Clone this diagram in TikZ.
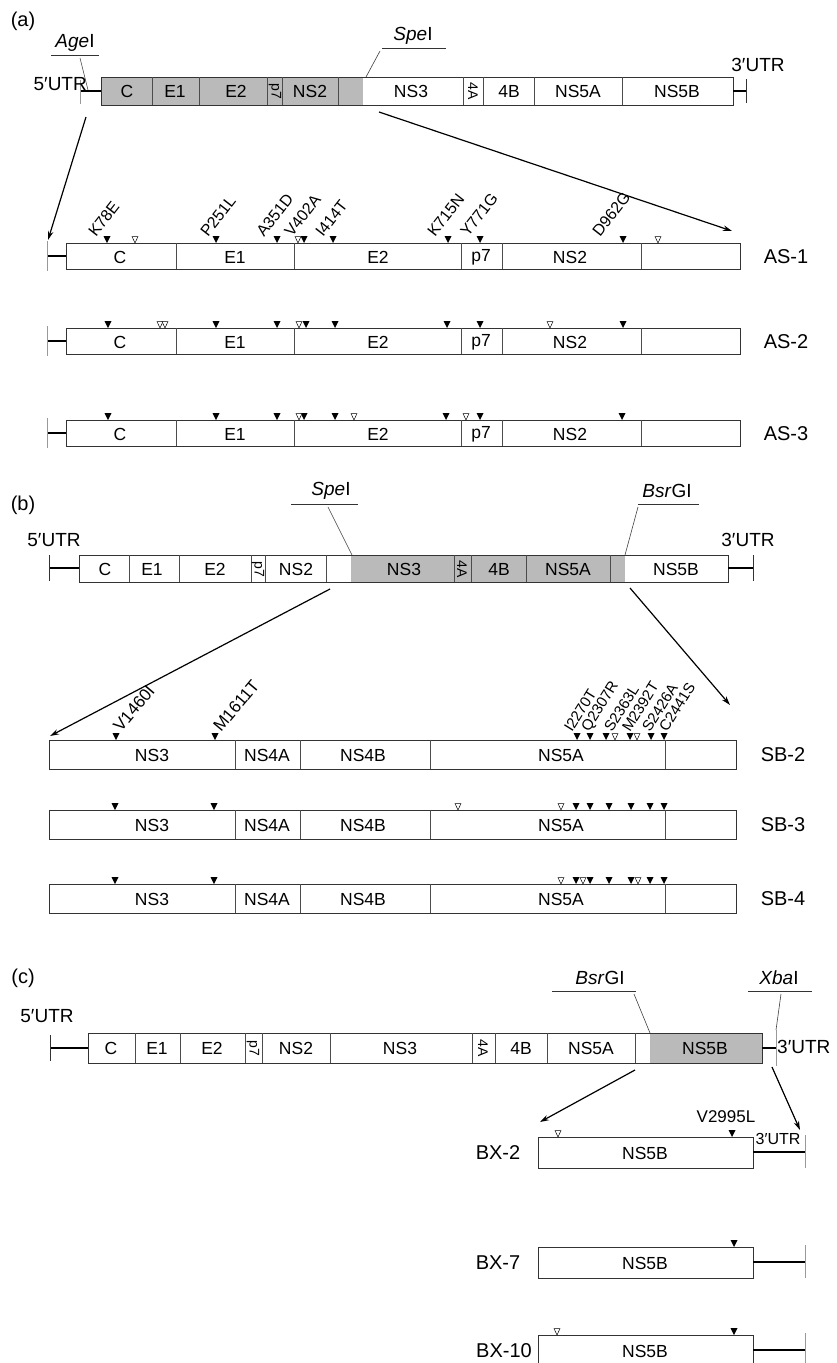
\documentclass[tikz,border=0pt]{standalone}
\usepackage{fontspec}
\setmainfont{Liberation Sans}
\usetikzlibrary{arrows.meta}
\begin{document}
\begin{tikzpicture}[x=1pt,y=-1pt,
  bx/.style={draw=black!80, line width=0.8pt},
  dv/.style={draw=black!70, line width=0.6pt},
  seg/.style={font=\fontsize{17.5}{17.5}\selectfont, inner sep=0pt},
  segr/.style={font=\fontsize{14}{14}\selectfont, inner sep=0pt, rotate=-90},
  rl/.style={font=\fontsize{20}{20}\selectfont, inner sep=0pt},
  pl/.style={font=\fontsize{20}{20}\selectfont, inner sep=0pt},
  ez/.style={font=\fontsize{19}{19}\selectfont, inner sep=0pt},
  utrl/.style={font=\fontsize{19}{19}\selectfont, inner sep=0pt},
  utr/.style={line width=2.8pt},
  tk/.style={draw=black!40, line width=0.7pt},
  tkb/.style={draw=black!80, line width=0.7pt},
  ld/.style={draw=black!75, line width=0.6pt},
  ul/.style={draw=black!80, line width=0.9pt},
  ar/.style={line width=1.2pt, -{Stealth[length=9pt,width=5.5pt]}},
  mu/.style={font=\fontsize{16}{16}\selectfont, rotate=52, anchor=base west, inner sep=0pt},
  mub/.style={font=\fontsize{17}{17}\selectfont, rotate=50, anchor=base west, inner sep=0pt},
  mud/.style={font=\fontsize{15}{15}\selectfont, rotate=58, anchor=base west, inner sep=0pt},
  fm/.pic={\fill[black] (-3.5,-7) -- (3.5,-7) -- (0,0) -- cycle;},
  om/.pic={\filldraw[draw=black, fill=white, line width=0.5pt] (-3,-6.5) -- (3,-6.5) -- (0,0) -- cycle;},
]
\useasboundingbox (0,0) rectangle (837,1363);

% ================= panel (a) =================
\node[pl] (pa) at (23,21) {(a)};
\fill[black!27] (101,77) rectangle (363,105);
\draw[bx] (101,77) rectangle (733,105);
\foreach \x in {152,199,267,282,338,463,483,534,622} \draw[dv] (\x,77) -- (\x,105);
\foreach \x/\t/\n in {127/C/aC,175/E1/aE1,236/E2/aE2,310/NS2/aNS2,411/NS3/aNS3,509/4B/a4B,578/NS5A/aNSA,677/NS5B/aNSB}
  \node[seg] (\n) at (\x,91) {\t};
\node[segr] (ap7) at (275,91) {p7};
\node[segr] (a4A) at (473,91) {4A};
\coordinate (a5L) at (80,91); \coordinate (a5R) at (101,91);
\coordinate (a3L) at (733,91); \coordinate (a3R) at (746,91);
\draw[utr] (a5L) -- (a5R);
\draw[utr] (a3L) -- (a3R);
\draw[tk] (80,80) -- (80,104);
\draw[tkb] (746,79) -- (746,103);
\node[utrl, anchor=base east] (a5) at (87,90) {5′UTR};
\node[utrl] (a3) at (758,65) {3′UTR};
\node[ez] (agea) at (75,43) {\textit{Age}I};
\coordinate (ageU1) at (51,55); \coordinate (ageU2) at (99,55);
\draw[ul] (ageU1) -- (ageU2);
\coordinate (ageL1) at (80,58); \coordinate (ageL2) at (88,90);
\draw[ld] (ageL1) -- (ageL2);
\node[ez] (spea) at (413,36) {\textit{Spe}I};
\coordinate (speU1) at (382,48); \coordinate (speU2) at (446,48);
\draw[ul] (speU1) -- (speU2);
\coordinate (speL1) at (380,51); \coordinate (speL2) at (366,77);
\draw[ld] (speL1) -- (speL2);
\coordinate (aA1s) at (86,117); \coordinate (aA1e) at (48,240);
\coordinate (aA2s) at (379,112); \coordinate (aA2e) at (732,231);
\draw[ar] (aA1s) -- (aA1e);
\draw[ar] (aA2s) -- (aA2e);

% AS rows
\foreach \t/\lab/\nm in {243/AS-1/as1,328/AS-2/as2,420/AS-3/as3}{
  \draw[bx] (66,\t) rectangle (740,{\t+26});
  \foreach \x in {176,294,461,502,641} \draw[dv] (\x,\t) -- (\x,{\t+26});
  \draw[utr] (47,{\t+13}) -- (66,{\t+13});
  \draw[tk] (47,{\t-2}) -- (47,{\t+28});
  \node[seg] (\nm C) at (120,{\t+14}) {C};
  \node[seg] (\nm E1) at (235,{\t+14}) {E1};
  \node[seg] (\nm E2) at (378,{\t+14}) {E2};
  \node[seg] (\nm p7) at (481,{\t+14}) {p7};
  \node[seg] (\nm NS2) at (570,{\t+14}) {NS2};
  \node[rl] (\nm) at (786,{\t+14}) {\lab};
}
\foreach \x in {107,216,277,304,333,448,480,623} \pic at (\x,243) {fm};
\foreach \x in {135,298,658} \pic at (\x,243) {om};
\foreach \x in {108,216,277,306,335,447,480,623} \pic at (\x,328) {fm};
\foreach \x in {160,165,299,550} \pic at (\x,328) {om};
\foreach \x in {108,216,277,304,335,446,480,622} \pic at (\x,420) {fm};
\foreach \x in {299,354,466} \pic at (\x,420) {om};
\foreach \x/\t/\n in {96/K78E/m1,208/P251L/m2,264/A351D/m3,292/V402A/m4,323/I414T/m5,435/K715N/m6,468/Y771G/m7,600/D962G/m8}
  \node[mu] (\n) at (\x,238) {\t};

% ================= panel (b) =================
\node[pl] (pb) at (23,505) {(b)};
\fill[black!27] (351,555) rectangle (625,582);
\draw[bx] (79,555) rectangle (728,582);
\foreach \x in {129,179,251,265,326,454,471,526,610} \draw[dv] (\x,555) -- (\x,582);
\foreach \x/\t/\n in {105/C/bC,152/E1/bE1,215/E2/bE2,296/NS2/bNS2,404/NS3/bNS3,499/4B/b4B,568/NS5A/bNSA,676/NS5B/bNSB}
  \node[seg] (\n) at (\x,569) {\t};
\node[segr] (bp7) at (258,569) {p7};
\node[segr] (b4A) at (462,569) {4A};
\coordinate (b5L) at (49,568); \coordinate (b5R) at (79,568);
\coordinate (b3L) at (728,568); \coordinate (b3R) at (753,568);
\draw[utr] (b5L) -- (b5R);
\draw[utr] (b3L) -- (b3R);
\draw[tkb] (49,555) -- (49,581);
\draw[tkb] (753,555) -- (753,581);
\node[utrl] (b5) at (54,540) {5′UTR};
\node[utrl] (b3) at (748,540) {3′UTR};
\node[ez] (speb) at (331,491) {\textit{Spe}I};
\coordinate (sbU1) at (291,504); \coordinate (sbU2) at (358,504);
\draw[ul] (sbU1) -- (sbU2);
\coordinate (sbL1) at (328,507); \coordinate (sbL2) at (352,555);
\draw[ld] (sbL1) -- (sbL2);
\node[ez] (bsrb) at (667,491) {\textit{Bsr}GI};
\coordinate (bbU1) at (638,504); \coordinate (bbU2) at (699,504);
\draw[ul] (bbU1) -- (bbU2);
\coordinate (bbL1) at (638,507); \coordinate (bbL2) at (625,555);
\draw[ld] (bbL1) -- (bbL2);
\coordinate (bA1s) at (330,589); \coordinate (bA1e) at (50,736);
\coordinate (bA2s) at (630,588); \coordinate (bA2e) at (730,705);
\draw[ar] (bA1s) -- (bA1e);
\draw[ar] (bA2s) -- (bA2e);

\foreach \t/\lab/\nm in {740/SB-2/sb2,810/SB-3/sb3,884/SB-4/sb4}{
  \draw[bx] (49,\t) rectangle (736,{\t+29});
  \foreach \x in {235,300,430,665} \draw[dv] (\x,\t) -- (\x,{\t+29});
  \node[seg] (\nm NS3) at (152,{\t+15}) {NS3};
  \node[seg] (\nm NS4A) at (267,{\t+15}) {NS4A};
  \node[seg] (\nm NS4B) at (363,{\t+15}) {NS4B};
  \node[seg] (\nm NS5A) at (561,{\t+15}) {NS5A};
  \node[rl] (\nm) at (783,{\t+15}) {\lab};
}
\foreach \x in {116,215,577,590,606,630,651,664} \pic at (\x,740) {fm};
\foreach \x in {615,637} \pic at (\x,740) {om};
\foreach \x in {115,214,576,590,609,631,650,664} \pic at (\x,810) {fm};
\foreach \x in {458,561} \pic at (\x,810) {om};
\foreach \x in {115,214,576,590,609,631,650,664} \pic at (\x,884) {fm};
\foreach \x in {561,583,638} \pic at (\x,884) {om};
\node[mub] (n1) at (121,733) {V1460I};
\node[mub] (n2) at (221,733) {M1611T};
\foreach \x/\t/\n in {572/I2270T/n3,589/Q2307R/n4,612/S2363L/n5,630/M2392T/n6,650/S2426A/n7,667/C2441S/n8}
  \node[mud] (\n) at (\x,733) {\t};

% ================= panel (c) =================
\node[pl] (pc) at (23,978) {(c)};
\fill[black!27] (650,1033) rectangle (762,1063);
\draw[bx] (88,1033) rectangle (762,1063);
\foreach \x in {135,180,245,262,330,472,495,547,635} \draw[dv] (\x,1033) -- (\x,1063);
\foreach \x/\t/\n in {111/C/cC,157/E1/cE1,212/E2/cE2,296/NS2/cNS2,400/NS3/cNS3,521/4B/c4B,591/NS5A/cNSA,705/NS5B/cNSB}
  \node[seg] (\n) at (\x,1048) {\t};
\node[segr] (cp7) at (253,1048) {p7};
\node[segr] (c4A) at (483,1048) {4A};
\coordinate (c5L) at (50,1048); \coordinate (c5R) at (88,1048);
\coordinate (c3L) at (762,1048); \coordinate (c3R) at (776,1048);
\draw[utr] (c5L) -- (c5R);
\draw[utr] (c3L) -- (c3R);
\draw[tkb] (50,1035) -- (50,1061);
\draw[tk] (776,1030) -- (776,1066);
\node[utrl] (c5) at (47,1016) {5′UTR};
\node[utrl, anchor=west] (c3) at (777,1047) {3′UTR};
\node[ez] (bsrc) at (600,978) {\textit{Bsr}GI};
\coordinate (bcU1) at (552,991); \coordinate (bcU2) at (636,991);
\draw[ul] (bcU1) -- (bcU2);
\coordinate (bcL1) at (634,994); \coordinate (bcL2) at (650,1033);
\draw[ld] (bcL1) -- (bcL2);
\node[ez] (xbac) at (779,978) {\textit{Xba}I};
\coordinate (xcU1) at (748,991); \coordinate (xcU2) at (812,991);
\draw[ul] (xcU1) -- (xcU2);
\coordinate (xcL1) at (781,994); \coordinate (xcL2) at (776,1030);
\draw[ld] (xcL1) -- (xcL2);
\coordinate (cA1s) at (635,1070); \coordinate (cA1e) at (540,1122);
\coordinate (cA2s) at (772,1067); \coordinate (cA2e) at (800,1130);
\draw[ar] (cA1s) -- (cA1e);
\draw[ar] (cA2s) -- (cA2e);

\foreach \t/\lab/\nm/\lx in {1137/BX-2/bx2/498,1247/BX-7/bx7/498,1335/BX-10/bx10/504}{
  \draw[bx] (538,\t) rectangle (753,{\t+31});
  \draw[utr] (753,{\t+15}) -- (805,{\t+15});
  \draw[tk] (805,{\t-2}) -- (805,{\t+31});
  \node[seg] (\nm NS5B) at (645,{\t+16}) {NS5B};
  \node[rl] (\nm) at (\lx,{\t+16}) {\lab};
}
\node[font=\fontsize{16}{16}\selectfont, inner sep=0pt] (bx2u) at (778,1139) {3′UTR};
\node[font=\fontsize{17}{17}\selectfont, inner sep=0pt] (v2995) at (726,1117) {V2995L};
\pic at (732,1137) {fm};
\pic at (558,1137) {om};
\pic at (734,1247) {fm};
\pic at (734,1335) {fm};
\pic at (557,1335) {om};
\end{tikzpicture}
\end{document}
